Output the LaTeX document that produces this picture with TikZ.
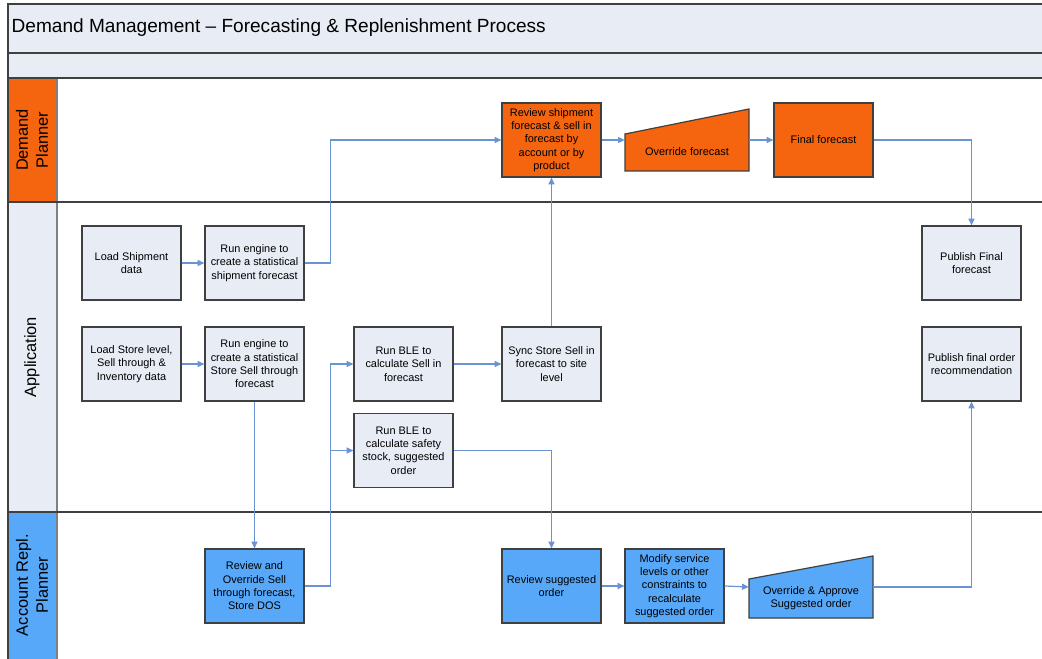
\documentclass[tikz,border=0pt]{standalone}
\usepackage{fontspec}
\setmainfont{Liberation Sans}
\usetikzlibrary{arrows.meta}
\definecolor{orng}{HTML}{F5640F}
\definecolor{blu}{HTML}{57A8F8}
\definecolor{lite}{HTML}{E8ECF5}
\definecolor{conn}{HTML}{6A93D4}
\definecolor{edge}{HTML}{404040}
\begin{document}
\begin{tikzpicture}[x=0.75pt,y=-0.75pt,
  box/.style={draw=edge,line width=0.9pt,fill=lite,minimum width=74.25pt,minimum height=55.5pt,
    align=center,font=\fontsize{8.2}{10}\selectfont,inner sep=1pt},
  obox/.style={box,fill=orng},
  bbox/.style={box,fill=blu},
  trap/.style={draw=edge,line width=0.9pt},
  ghost/.style={inner sep=0pt,minimum width=93pt,minimum height=46.5pt},
  ttext/.style={align=center,font=\fontsize{8.2}{10}\selectfont},
  conn/.style={draw=conn,line width=0.9pt,-{Triangle[length=5pt,width=4.5pt]}},
  lane/.style={draw=edge,line width=1.4pt},
  lanelabel/.style={rotate=90,align=center,font=\fontsize{12.3}{15}\selectfont}
]
\useasboundingbox (0,0) rectangle (1042,659);
\begin{scope}
\clip (0,0) rectangle (1042,659);
\fill[white] (0,0) rectangle (1042,659);
% header
\draw[lane,fill=lite] (8,4) rectangle (1060,53);
\draw[lane,fill=lite] (8,53) rectangle (1060,78);
\node[anchor=west,font=\fontsize{14.3}{17}\selectfont] (title) at (7,28) {Demand Management -- Forecasting \& Replenishment Process};
% lane label columns
\fill[orng] (8,78) rectangle (57,202);
\fill[lite] (8,202) rectangle (57,512);
\fill[blu] (8,512) rectangle (57,670);
\draw[draw=gray,line width=1pt] (57,78) -- (57,670);
\draw[lane] (8,78) -- (1060,78);
\draw[lane] (8,202) -- (1060,202);
\draw[lane] (8,512) -- (1060,512);
\draw[lane] (8,4) -- (8,670);
\node[lanelabel] (l1) at (32,140) {Demand\\Planner};
\node[lanelabel] (l2) at (32,357) {Application};
\node[lanelabel] (l3) at (32,585) {Account Repl.\\Planner};
% application nodes
\node[box] (ls) at (131.5,263) {Load Shipment\\data};
\node[box] (rs) at (254.5,263) {Run engine to\\create a statistical\\shipment forecast};
\node[box] (lst) at (131.5,364) {Load Store level,\\Sell through \&\\Inventory data};
\node[box] (rst) at (254.5,364) {Run engine to\\create a statistical\\Store Sell through\\forecast};
\node[box] (ble1) at (403.5,364) {Run BLE to\\calculate Sell in\\forecast};
\node[box] (sync) at (551.5,364) {Sync Store Sell in\\forecast to site\\level};
\node[box] (ble2) at (403.5,450.5) {Run BLE to\\calculate safety\\stock, suggested\\order};
\node[box] (pff) at (971.5,263) {Publish Final\\forecast};
\node[box] (pfo) at (971.5,364) {Publish final order\\recommendation};
% demand planner nodes
\node[obox] (rvs) at (551.5,140) {Review shipment\\forecast \& sell in\\forecast by\\account or by\\product};
\draw[trap,fill=orng] (625,134) -- (749,109) -- (749,171) -- (625,171) -- cycle;
\node[ghost] (ovr) at (687,140) {};
\node[ttext] (ovrt) at (687,152) {Override forecast};
\node[obox] (ff) at (823.5,140) {Final forecast};
% account planner nodes
\node[bbox] (ro) at (254.5,586) {Review and\\Override Sell\\through forecast,\\Store DOS};
\node[bbox] (rso) at (551.5,586) {Review suggested\\order};
\node[bbox] (mod) at (674.5,586) {Modify service\\levels or other\\constraints to\\recalculate\\suggested order};
\draw[trap,fill=blu] (749,579) -- (873,556) -- (873,618) -- (749,618) -- cycle;
\node[ghost] (oa) at (811,587) {};
\node[ttext] (oat) at (811,598) {Override \& Approve\\Suggested order};
% connectors
\draw[conn] (ls) -- (rs);
\draw[conn] (rs.east) -- ++(26,0) |- (rvs.west);
\draw[conn] (lst) -- (rst);
\draw[conn] (rst) -- (ro);
\draw[conn] (ro.east) -- ++(26,0) |- (ble1.west);
\draw[conn] (ro.east) -- ++(26,0) |- (ble2.west);
\draw[conn] (ble1) -- (sync);
\draw[conn] (sync) -- (rvs);
\draw[conn] (ble2.east) -| (rso.north);
\draw[conn] (rvs.east) -- (ovr.west);
\draw[conn] (ovr.east) -- (ff.west);
\draw[conn] (ff.east) -| (pff.north);
\draw[conn] (rso) -- (mod);
\draw[conn] (mod.east) -- (oa.west);
\draw[conn] (oa.east) -| (pfo.south);
\end{scope}
\end{tikzpicture}
\end{document}
